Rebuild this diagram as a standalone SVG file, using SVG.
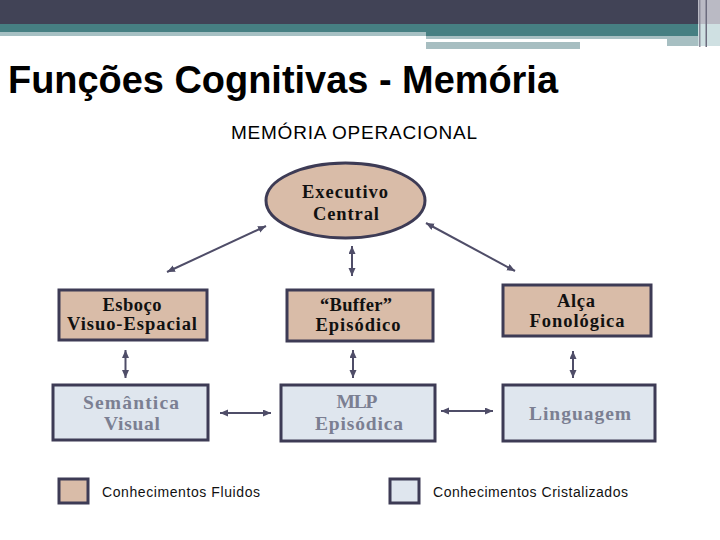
<svg xmlns="http://www.w3.org/2000/svg" width="720" height="540" viewBox="0 0 720 540">
<style>
.box{stroke:#3d3b55;stroke-width:3}
.fl{fill:#d9bca8}
.cr{fill:#dfe6ee}
.t1{font-family:"Liberation Serif","Times New Roman",serif;font-weight:bold;font-size:18.5px;fill:#111;text-anchor:middle}
.t2{font-family:"Liberation Serif","Times New Roman",serif;font-weight:bold;font-size:19.5px;fill:#7b7f92;text-anchor:middle}
.lg{font-family:"Liberation Sans",Arial,sans-serif;font-size:14px;fill:#111}
.con{stroke:#4f4d68;stroke-width:2;fill:none;marker-start:url(#ah);marker-end:url(#ah)}
</style>
<defs>
<marker id="ah" markerUnits="userSpaceOnUse" markerWidth="9" markerHeight="8" refX="8" refY="3.5" orient="auto-start-reverse">
<path d="M0,0 L8,3.5 L0,7 z" fill="#4f4d68"/>
</marker>
</defs>
<rect width="720" height="540" fill="#fff"/>
<g id="banner">
<rect x="0" y="0" width="720" height="24" fill="#414356"/>
<rect x="0" y="24" width="698" height="8" fill="#467f82"/>
<rect x="426" y="32" width="272" height="4" fill="#467f82"/>
<rect x="0" y="32" width="426" height="4" fill="#a6c0c3"/>
<rect x="426" y="36" width="241" height="3" fill="#a7bfc2"/>
<rect x="667" y="36" width="31" height="10" fill="#a7bfc2"/>
<rect x="426" y="42" width="154" height="7" fill="#a7bec1"/>
<rect x="698" y="0" width="22" height="24" fill="#babac4"/>
<rect x="698" y="24" width="22" height="22" fill="#cfe0e2"/>
<rect x="699" y="0" width="1.5" height="47" fill="#8d8d9c"/>
<rect x="705.5" y="0" width="1.5" height="47" fill="#6c6c7e"/>
</g>
<text x="8" y="93" font-family="'Liberation Sans',Arial,sans-serif" font-weight="bold" font-size="38" textLength="550" lengthAdjust="spacingAndGlyphs" fill="#000">Funções Cognitivas - Memória</text>
<text x="231" y="139" font-family="'Liberation Sans',Arial,sans-serif" font-size="19" textLength="246" fill="#000">MEMÓRIA OPERACIONAL</text>
<g id="connectors">
<line class="con" x1="167" y1="272" x2="266" y2="226"/>
<line class="con" x1="426" y1="223" x2="515" y2="271"/>
<line class="con" x1="352" y1="246" x2="352" y2="276"/>
<line class="con" x1="125.5" y1="350" x2="125.5" y2="378"/>
<line class="con" x1="353" y1="350" x2="353" y2="378"/>
<line class="con" x1="573" y1="351" x2="573" y2="378"/>
<line class="con" x1="220" y1="413" x2="271" y2="413"/>
<line class="con" x1="441" y1="411" x2="493" y2="411"/>
</g>
<g id="executivo">
<ellipse cx="345.5" cy="200.5" rx="79.5" ry="37.5" class="fl box" stroke-width="2.5"/>
<text class="t1" x="345" y="198" textLength="86">Executivo</text>
<text class="t1" x="346" y="220" textLength="66">Central</text>
</g>
<g id="esboco">
<rect x="59" y="290" width="148" height="50" class="fl box"/>
<text class="t1" x="132" y="311" textLength="59">Esboço</text>
<text class="t1" x="132" y="330" textLength="130">Visuo-Espacial</text>
</g>
<g id="buffer">
<rect x="287" y="290" width="146" height="51" class="fl box"/>
<text class="t1" x="356" y="311" textLength="72">“Buffer”</text>
<text class="t1" x="358" y="331" textLength="85">Episódico</text>
</g>
<g id="alca">
<rect x="503" y="285" width="148" height="51" class="fl box"/>
<text class="t1" x="576" y="307" textLength="38">Alça</text>
<text class="t1" x="577" y="327" textLength="95">Fonológica</text>
</g>
<g id="semantica">
<rect x="53" y="385" width="155" height="55" class="cr box"/>
<text class="t2" x="131" y="409" textLength="96">Semântica</text>
<text class="t2" x="132" y="430" textLength="56">Visual</text>
</g>
<g id="mlp">
<rect x="281" y="385" width="154" height="56" class="cr box"/>
<text class="t2" x="357" y="408" textLength="41">MLP</text>
<text class="t2" x="359" y="430" textLength="88">Episódica</text>
</g>
<g id="linguagem">
<rect x="503" y="385" width="152" height="56" class="cr box"/>
<text class="t2" x="580" y="420" textLength="102">Linguagem</text>
</g>
<g id="legend-fluidos">
<rect x="59" y="479" width="29" height="24" class="fl box"/>
<text class="lg" x="102" y="497" textLength="158">Conhecimentos Fluidos</text>
</g>
<g id="legend-cristalizados">
<rect x="390" y="479" width="29" height="24" class="cr box"/>
<text class="lg" x="433" y="497" textLength="195">Conhecimentos Cristalizados</text>
</g>
</svg>
